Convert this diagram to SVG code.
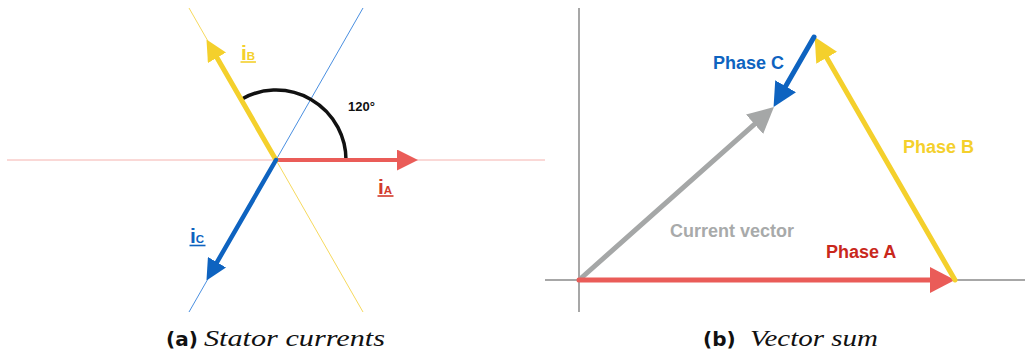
<svg xmlns="http://www.w3.org/2000/svg" width="1025" height="358" viewBox="0 0 1025 358">
<style>
.lbl{font-family:"Liberation Sans",Arial,sans-serif;font-weight:bold}
.cap-b{font-family:"DejaVu Sans",sans-serif;font-weight:bold;font-size:20px;fill:#111}
.cap-i{font-family:"Liberation Serif","DejaVu Serif",serif;font-style:italic;font-size:23px;fill:#111}
.thin{stroke-width:1;fill:none}
.vec{fill:none;stroke-linecap:round}
</style>
<defs>
<marker id="ahR" markerUnits="userSpaceOnUse" markerWidth="21" markerHeight="21" refX="6" refY="10.5" orient="auto"><path d="M0,0 L21,10.5 L0,21 z" fill="#ea5c58"/></marker>
<marker id="ahY" markerUnits="userSpaceOnUse" markerWidth="21" markerHeight="21" refX="6" refY="10.5" orient="auto"><path d="M0,0 L21,10.5 L0,21 z" fill="#f4d02c"/></marker>
<marker id="ahB" markerUnits="userSpaceOnUse" markerWidth="21" markerHeight="21" refX="6" refY="10.5" orient="auto"><path d="M0,0 L21,10.5 L0,21 z" fill="#0e63c0"/></marker>
<marker id="bhR" markerUnits="userSpaceOnUse" markerWidth="25" markerHeight="26" refX="7" refY="13" orient="auto"><path d="M0,0 L25,13 L0,26 z" fill="#ea5c58"/></marker>
<marker id="bhY" markerUnits="userSpaceOnUse" markerWidth="24" markerHeight="24" refX="6" refY="12" orient="auto"><path d="M0,0 L24,12 L0,24 z" fill="#f4d02c"/></marker>
<marker id="bhB" markerUnits="userSpaceOnUse" markerWidth="24" markerHeight="24" refX="6" refY="12" orient="auto"><path d="M0,0 L24,12 L0,24 z" fill="#0e63c0"/></marker>
<marker id="bhG" markerUnits="userSpaceOnUse" markerWidth="26" markerHeight="26" refX="8" refY="13" orient="auto"><path d="M0,0 L26,13 L0,26 z" fill="#a5a7a7"/></marker>
</defs>
<rect width="1025" height="358" fill="#fff"/>

<g id="axes">
<line class="thin" x1="7" y1="160" x2="545" y2="160" stroke="#f5b2ae"/>
<line class="thin" x1="189" y1="8" x2="363" y2="312" stroke="#f6d95e"/>
<line class="thin" x1="363" y1="8" x2="189" y2="312" stroke="#4a8fe0"/>
<line x1="579" y1="8" x2="579" y2="312" stroke="#8a8a8a" stroke-width="1.5"/>
<line x1="545" y1="280" x2="1025" y2="280" stroke="#8a8a8a" stroke-width="1.5"/>
</g>

<g id="connectors">
<path id="angle-arc" d="M346,160 A70,70 0 0 0 241,99.4" fill="none" stroke="#111" stroke-width="3.5"/>
<line id="vec-iA" class="vec" x1="276" y1="160" x2="403" y2="160" stroke="#ea5c58" stroke-width="4" marker-end="url(#ahR)"/>
<line id="vec-iB" class="vec" x1="276" y1="160" x2="214" y2="52.6" stroke="#f4d02c" stroke-width="5" marker-end="url(#ahY)"/>
<line id="vec-iC" class="vec" x1="276" y1="160" x2="214" y2="267.4" stroke="#0e63c0" stroke-width="4.5" marker-end="url(#ahB)"/>
<line id="vec-current" class="vec" x1="579" y1="280" x2="760.5" y2="118.9" stroke="#a5a7a7" stroke-width="5" marker-end="url(#bhG)"/>
<line id="vec-phaseA" class="vec" x1="579" y1="280" x2="937" y2="280" stroke="#ea5c58" stroke-width="5" marker-end="url(#bhR)"/>
<line id="vec-phaseB" class="vec" x1="955" y1="280" x2="823.7" y2="52.6" stroke="#f4d02c" stroke-width="5" marker-end="url(#bhY)"/>
<line id="vec-phaseC" class="vec" x1="814" y1="37" x2="782.6" y2="91.4" stroke="#0e63c0" stroke-width="5" marker-end="url(#bhB)"/>
</g>

<g id="label-angle"><text class="lbl" x="348" y="111" font-size="13" fill="#111">120°</text></g>

<g id="label-iB">
<text class="lbl" x="241" y="60" fill="#f4d02c"><tspan font-size="21">i</tspan><tspan font-size="11.5">B</tspan></text>
<line x1="240.5" y1="62" x2="256" y2="62" stroke="#f4d02c" stroke-width="1.6"/>
</g>
<g id="label-iA">
<text class="lbl" x="378" y="194" fill="#d23a2c"><tspan font-size="21">i</tspan><tspan font-size="11.5">A</tspan></text>
<line x1="377.5" y1="196" x2="393.5" y2="196" stroke="#d23a2c" stroke-width="1.6"/>
</g>
<g id="label-iC">
<text class="lbl" x="190" y="243" fill="#0e63c0"><tspan font-size="21">i</tspan><tspan font-size="11.5">C</tspan></text>
<line x1="189.5" y1="245.5" x2="205.5" y2="245.5" stroke="#0e63c0" stroke-width="1.6"/>
</g>

<g id="label-phaseC"><text class="lbl" x="713" y="69" font-size="18" fill="#0e63c0">Phase C</text></g>
<g id="label-phaseB"><text class="lbl" x="903" y="153" font-size="18" fill="#f4d02c">Phase B</text></g>
<g id="label-phaseA"><text class="lbl" x="826" y="258" font-size="18" fill="#c9281c">Phase A</text></g>
<g id="label-current"><text class="lbl" x="670" y="237" font-size="18" fill="#a8aaaa">Current vector</text></g>

<g id="caption-a">
<text class="cap-b" x="166" y="346">(a)</text>
<text class="cap-i" x="204" y="346" textLength="181" lengthAdjust="spacingAndGlyphs">Stator currents</text>
</g>
<g id="caption-b">
<text class="cap-b" x="703" y="346">(b)</text>
<text class="cap-i" x="750" y="346" textLength="128" lengthAdjust="spacingAndGlyphs">Vector sum</text>
</g>
</svg>
